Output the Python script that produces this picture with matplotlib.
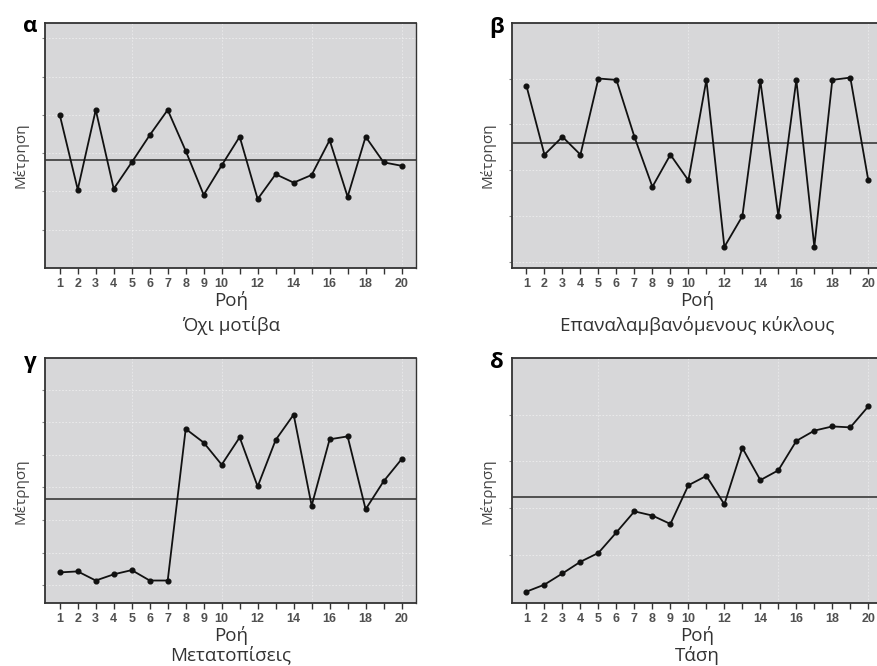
import numpy as np
import matplotlib
matplotlib.use("Agg")
import matplotlib.pyplot as plt

plt.rcParams['font.family'] = ['Open Sans', 'DejaVu Sans']

runs = np.arange(1, 21)
tick_positions = list(range(1, 21))
tick_labels = [str(i) if (i <= 10 or i % 2 == 0) else "" for i in range(1, 21)]

# Measurements for each pattern (arbitrary units)
no_pattern = [4.00, 2.05, 4.13, 2.07, 2.76, 3.47, 4.13, 3.06, 1.91, 2.68,
              3.43, 1.80, 2.45, 2.23, 2.43, 3.34, 1.86, 3.43, 2.76, 2.67]
cycles = [4.84, 3.34, 3.73, 3.34, 5.00, 4.97, 3.73, 2.64, 3.34, 2.78,
          4.97, 1.33, 2.00, 4.95, 2.00, 4.97, 1.33, 4.97, 5.02, 2.78]
shifts = [1.39, 1.42, 1.14, 1.33, 1.46, 1.14, 1.14, 5.80, 5.38, 4.70,
          5.54, 4.03, 5.46, 6.24, 3.44, 5.48, 5.57, 3.33, 4.19, 4.87]
trend = [0.21, 0.36, 0.60, 0.85, 1.04, 1.48, 1.93, 1.84, 1.66, 2.49,
         2.69, 2.08, 3.29, 2.60, 2.81, 3.44, 3.66, 3.75, 3.73, 4.18]

letters = ["α", "β", "γ", "δ"]
titles = ["Όχι μοτίβα", "Επαναλαμβανόμενους κύκλους", "Μετατοπίσεις", "Τάση"]
series = [no_pattern, cycles, shifts, trend]
ylims = [(0.0, 6.4), (0.87, 6.21), (0.44, 7.97), (-0.04, 5.21)]
ygrid = [np.arange(1, 7), np.arange(1, 6), np.arange(1, 8), np.arange(1, 5)]

W, H = 877, 666
fig = plt.figure(figsize=(W / 100, H / 100), dpi=100)

# axes boxes in pixels: left, top, right, bottom
boxes = [(45, 23, 416, 268), (511.7, 23, 882.7, 268),
         (45, 358.3, 416, 603.3), (511.7, 358.3, 882.7, 603.3)]
# vertical offset of the subtitle below each axes
title_gap = [57, 57, 52, 52]

bg = "#d7d7d9"
frame = "#333333"

for k in range(4):
    l, t, r, b = boxes[k]
    ax = fig.add_axes([l / W, 1 - b / H, (r - l) / W, (b - t) / H])
    ax.set_facecolor(bg)
    vals = np.array(series[k])
    ax.set_xlim(0.18, 20.8)
    ax.set_ylim(*ylims[k])

    # faint grid
    for gy in ygrid[k]:
        ax.axhline(gy, color="white", lw=0.8, ls=(0, (1.5, 1.5)), alpha=0.45, zorder=1)
    for gx in [5, 10, 15, 20]:
        ax.axvline(gx, color="white", lw=0.8, ls=(0, (1.5, 1.5)), alpha=0.4, zorder=1)

    # center line at the mean
    ax.axhline(vals.mean(), color="#505050", lw=1.4, zorder=2)
    ax.plot(runs, vals, color="#111111", lw=1.3, marker="o", ms=3.4,
            mfc="#111111", mec="#111111", zorder=3)

    ax.set_xticks(tick_positions)
    ax.set_xticklabels(tick_labels, fontsize=9, color="#505050",
                       family=["Liberation Sans", "DejaVu Sans"], fontweight="bold")
    ax.set_yticks(ygrid[k])
    ax.set_yticklabels([])
    ax.tick_params(axis="x", length=4, width=1.0, color=frame, pad=3)
    ax.tick_params(axis="y", length=2.5, width=0.8, color="#888888")
    for side in ["top", "left", "bottom"]:
        ax.spines[side].set_color(frame)
        ax.spines[side].set_linewidth(1.3)
    ax.spines["right"].set_color(frame)
    ax.spines["right"].set_linewidth(1.0)

    # x label and subtitle centred under the tick range
    xc = l + (10.5 - 0.18) / (20.8 - 0.18) * (r - l)
    fig.text(xc / W, 1 - (b + 32) / H, "Ροή", ha="center", va="center",
             fontsize=13.5, color="#333333")
    fig.text(xc / W, 1 - (b + title_gap[k]) / H, titles[k], ha="center", va="center",
             fontsize=13.5, color="#333333")
    fig.text((l - 24) / W, 1 - ((t + b) / 2 + 10) / H, "Μέτρηση", rotation=90,
             ha="center", va="center", fontsize=11, color="#444444")
    fig.text((l - 15) / W, 1 - (t + 4) / H, letters[k], ha="center", va="center",
             fontsize=16, fontweight="bold", color="black")

fig.savefig("out.png", dpi=100, facecolor="white")
